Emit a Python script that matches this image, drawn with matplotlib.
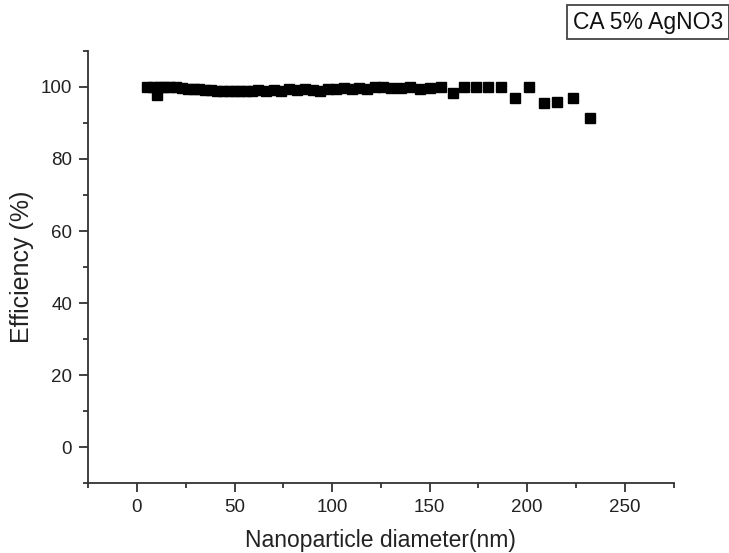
import matplotlib
matplotlib.use("Agg")
import matplotlib.pyplot as plt
from matplotlib.ticker import MultipleLocator

# values
diameter = [5, 8, 10, 12, 14, 17, 20, 23, 26, 29, 32, 35, 38, 41, 44, 47, 50,
            53, 56, 59, 62, 66, 70, 74, 78, 82, 86, 90, 94, 98, 102, 106, 110,
            114, 118, 122, 126, 130.1, 135.2, 139.8, 145, 150.3, 155.7, 161.7,
            167.7, 173.7, 180, 186.5, 193.7, 201, 208.4, 215.5, 223.7, 232.2]
efficiency = [100, 100, 97.7, 100, 100, 100, 100, 99.8, 99.5, 99.4, 99.3, 99.2,
              99.1, 99.0, 99.0, 98.9, 98.9, 98.9, 99.0, 98.9, 99.1, 99.0, 99.2,
              99.0, 99.3, 99.1, 99.3, 99.2, 99.0, 99.5, 99.4, 99.6, 99.5, 99.7,
              99.3, 100, 100, 99.6, 99.6, 100, 99.4, 99.8, 100, 98.2, 100, 100,
              100, 100, 96.9, 100, 95.5, 95.7, 96.9, 91.5]
series_label = "CA 5% AgNO3"

plt.rcParams['font.family'] = ['Liberation Sans', 'DejaVu Sans']

fig = plt.figure(figsize=(7.29, 5.53), dpi=100)
ax = fig.add_axes([0.121, 0.126, 0.803, 0.782])

ax.plot(diameter, efficiency, linestyle='none', marker='s', markersize=6.5,
        color='black')

ax.set_xlim(-25, 275)
ax.set_ylim(-10, 110)
ax.xaxis.set_major_locator(MultipleLocator(50))
ax.xaxis.set_minor_locator(MultipleLocator(25))
ax.yaxis.set_major_locator(MultipleLocator(20))
ax.yaxis.set_minor_locator(MultipleLocator(10))

for side in ['top', 'right']:
    ax.spines[side].set_visible(False)
for side in ['left', 'bottom']:
    ax.spines[side].set_linewidth(1.3)
    ax.spines[side].set_color('#333333')

ax.tick_params(which='major', direction='out', length=6.5, width=1.3,
               color='#333333', labelsize=13.5, labelcolor='#222222', pad=5)
ax.tick_params(which='minor', direction='out', length=3.5, width=1.3,
               color='#333333')

ax.set_xlabel("Nanoparticle diameter(nm)", fontsize=16.5, color='#222222',
              labelpad=9)
ax.set_ylabel("Efficiency (%)", fontsize=18, color='#222222', labelpad=5)

fig.text(0.786, 0.96, series_label, fontsize=16.5, color='#111111',
         va='center', ha='left',
         bbox=dict(boxstyle='square,pad=0.25', facecolor='white',
                   edgecolor='#444444', linewidth=1.3))

fig.savefig("out.png", dpi=100)
